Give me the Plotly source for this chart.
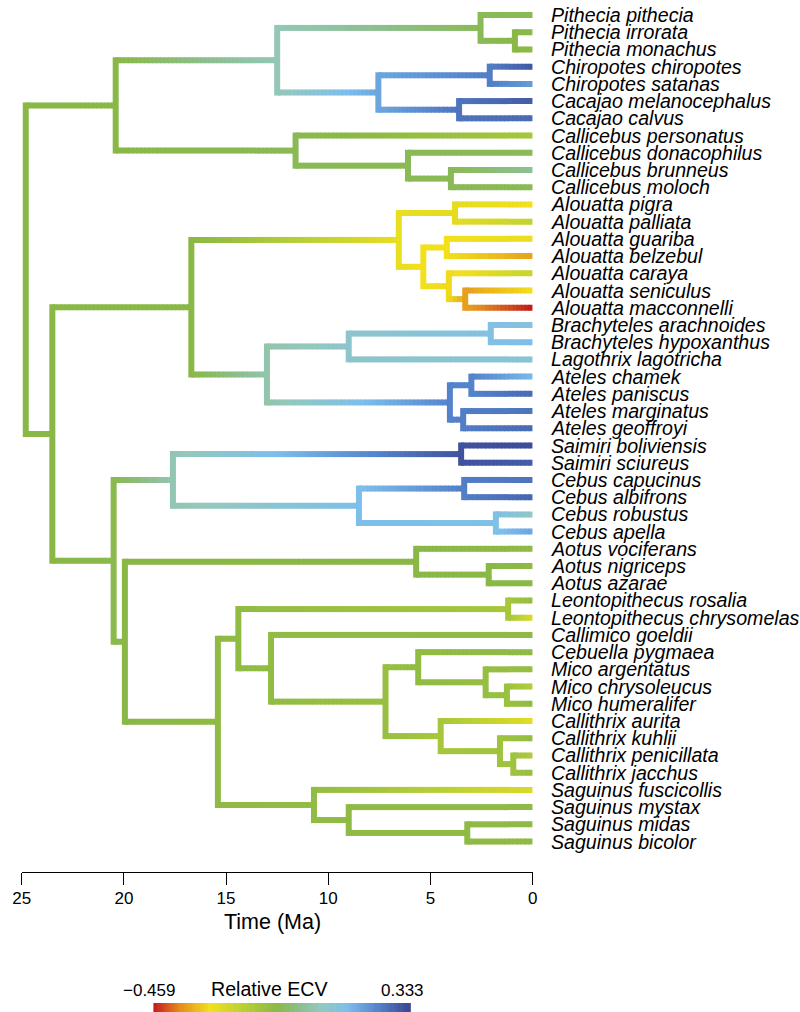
import math
import plotly.graph_objects as go

# ---------------- data ----------------
tip_labels = [
    "Pithecia pithecia", "Pithecia irrorata", "Pithecia monachus",
    "Chiropotes chiropotes", "Chiropotes satanas",
    "Cacajao melanocephalus", "Cacajao calvus",
    "Callicebus personatus", "Callicebus donacophilus", "Callicebus brunneus", "Callicebus moloch",
    "Alouatta pigra", "Alouatta palliata", "Alouatta guariba", "Alouatta belzebul",
    "Alouatta caraya", "Alouatta seniculus", "Alouatta macconnelli",
    "Brachyteles arachnoides", "Brachyteles hypoxanthus", "Lagothrix lagotricha",
    "Ateles chamek", "Ateles paniscus", "Ateles marginatus", "Ateles geoffroyi",
    "Saimiri boliviensis", "Saimiri sciureus",
    "Cebus capucinus", "Cebus albifrons", "Cebus robustus", "Cebus apella",
    "Aotus vociferans", "Aotus nigriceps", "Aotus azarae",
    "Leontopithecus rosalia", "Leontopithecus chrysomelas",
    "Callimico goeldii", "Cebuella pygmaea",
    "Mico argentatus", "Mico chrysoleucus", "Mico humeralifer",
    "Callithrix aurita", "Callithrix kuhlii", "Callithrix penicillata", "Callithrix jacchus",
    "Saguinus fuscicollis", "Saguinus mystax", "Saguinus midas", "Saguinus bicolor",
]
tip_ecv = [
    -0.063, -0.071, -0.087,
    0.301, 0.190,
    0.293, 0.270,
    -0.142, -0.063, 0.000, -0.063,
    -0.285, -0.198, -0.269, -0.356,
    -0.206, -0.285, -0.459,
    0.111, 0.135, 0.095,
    0.143, 0.270, 0.254, 0.270,
    0.317, 0.293,
    0.254, 0.278, 0.064, 0.175,
    -0.087, -0.087, -0.079,
    -0.095, -0.245,
    -0.087, -0.087,
    -0.103, -0.174, -0.087,
    -0.261, -0.095, -0.158, -0.103,
    -0.245, -0.087, -0.087, -0.087,
]

node_names = [
    "root", "Pitheciidae", "Pitheciinae", "Pithecia", "PithIM", "ChirCac",
    "Chiropotes", "Cacajao", "Callicebus", "CalliDBM", "CalliBM",
    "nA", "Atelidae", "Alouatta", "AlPP", "AlRest", "AlGB", "AlCSM", "AlSM",
    "Atelinae", "BrLa", "Brachyteles", "Ateles", "AtCP", "AtMG",
    "nB", "Cebidae", "Saimiri", "Cebus", "CebCA", "CebRA",
    "nC", "Aotus", "AoNA", "nD", "nE", "Leonto", "nF", "nG", "nH",
    "Mico", "MicoCH", "Callithrix", "CalKPJ", "CalPJ",
    "Saguinus", "SagMMB", "SagMB",
]
node_children = [
    ["Pitheciidae", "nA"], ["Pitheciinae", "Callicebus"], ["Pithecia", "ChirCac"],
    ["Pithecia pithecia", "PithIM"], ["Pithecia irrorata", "Pithecia monachus"],
    ["Chiropotes", "Cacajao"],
    ["Chiropotes chiropotes", "Chiropotes satanas"], ["Cacajao melanocephalus", "Cacajao calvus"],
    ["Callicebus personatus", "CalliDBM"], ["Callicebus donacophilus", "CalliBM"],
    ["Callicebus brunneus", "Callicebus moloch"],
    ["Atelidae", "nB"], ["Alouatta", "Atelinae"], ["AlPP", "AlRest"],
    ["Alouatta pigra", "Alouatta palliata"], ["AlGB", "AlCSM"],
    ["Alouatta guariba", "Alouatta belzebul"], ["Alouatta caraya", "AlSM"],
    ["Alouatta seniculus", "Alouatta macconnelli"],
    ["BrLa", "Ateles"], ["Brachyteles", "Lagothrix lagotricha"],
    ["Brachyteles arachnoides", "Brachyteles hypoxanthus"], ["AtCP", "AtMG"],
    ["Ateles chamek", "Ateles paniscus"], ["Ateles marginatus", "Ateles geoffroyi"],
    ["Cebidae", "nC"], ["Saimiri", "Cebus"], ["Saimiri boliviensis", "Saimiri sciureus"],
    ["CebCA", "CebRA"], ["Cebus capucinus", "Cebus albifrons"], ["Cebus robustus", "Cebus apella"],
    ["Aotus", "nD"], ["Aotus vociferans", "AoNA"], ["Aotus nigriceps", "Aotus azarae"],
    ["nE", "Saguinus"], ["Leonto", "nF"],
    ["Leontopithecus rosalia", "Leontopithecus chrysomelas"],
    ["Callimico goeldii", "nG"], ["nH", "Callithrix"], ["Cebuella pygmaea", "Mico"],
    ["Mico argentatus", "MicoCH"], ["Mico chrysoleucus", "Mico humeralifer"],
    ["Callithrix aurita", "CalKPJ"], ["Callithrix kuhlii", "CalPJ"],
    ["Callithrix penicillata", "Callithrix jacchus"],
    ["Saguinus fuscicollis", "SagMMB"], ["Saguinus mystax", "SagMB"],
    ["Saguinus midas", "Saguinus bicolor"],
]
node_ages = [
    24.8, 20.4, 12.5, 2.55, 0.87, 7.55,
    2.1, 3.6, 11.6, 6.1, 4.0,
    23.5, 16.7, 6.55, 3.8, 5.35, 4.2, 4.1, 3.3,
    13.0, 9.0, 2.05, 4.05, 3.0, 3.4,
    20.5, 17.6, 3.5, 8.5, 3.35, 1.8,
    19.95, 5.7, 2.15, 15.4, 14.4, 1.2, 12.8, 7.2, 5.6,
    2.3, 1.26, 4.5, 1.6, 0.95,
    10.7, 9.0, 3.2,
]
node_ecv = [
    -0.079, -0.079, 0.048, -0.063, -0.079, 0.175,
    0.238, 0.254, -0.063, -0.063, -0.063,
    -0.079, -0.079, -0.269, -0.261, -0.285, -0.285, -0.293, -0.356,
    0.032, 0.080, 0.119, 0.230, 0.230, 0.238,
    -0.071, 0.040, 0.309, 0.135, 0.238, 0.127,
    -0.079, -0.079, -0.079, -0.087, -0.095, -0.142, -0.095, -0.111, -0.095,
    -0.103, -0.118, -0.142, -0.126, -0.126,
    -0.095, -0.087, -0.087,
]

ecv_min, ecv_max = -0.459, 0.333
time_ticks = [25, 20, 15, 10, 5, 0]

palette_pos = [0.00, 0.10, 0.22, 0.35, 0.48, 0.57, 0.65, 0.75, 0.87, 1.00]
palette_col = ["#C4161C", "#E38A1E", "#F2E01C", "#B8D035", "#8AB846",
               "#8CBF8E", "#94C8BE", "#7DBFEB", "#5483CB", "#3A4391"]

# ---------------- geometry (body margin removed by post_script) ----------------
OFF = 0
W, H = 800 - OFF, 1012 - OFF

def px(xw):
    return (xw - OFF) / W

def py(yw):
    return 1 - (yw - OFF) / H

# ---------------- helpers ----------------
def hex2rgb(h):
    h = h.lstrip("#")
    return tuple(int(h[i:i + 2], 16) for i in (0, 2, 4))

pal_rgb = [hex2rgb(c) for c in palette_col]

def color_of(v, levels=300):
    p = (v - ecv_min) / (ecv_max - ecv_min)
    p = min(1.0, max(0.0, p))
    p = round(p * levels) / levels
    for k in range(len(palette_pos) - 1):
        if p <= palette_pos[k + 1]:
            f = (p - palette_pos[k]) / (palette_pos[k + 1] - palette_pos[k])
            a, b = pal_rgb[k], pal_rgb[k + 1]
            return "rgb(%d,%d,%d)" % tuple(round(a[j] + (b[j] - a[j]) * f) for j in range(3))
    return "rgb(%d,%d,%d)" % pal_rgb[-1]

age, val, ypos, children = {}, {}, {}, {}
for i, t in enumerate(tip_labels):
    age[t] = 0.0
    val[t] = tip_ecv[i]
    ypos[t] = float(i)
for n, ch, a, v in zip(node_names, node_children, node_ages, node_ecv):
    children[n] = ch
    age[n] = a
    val[n] = v

def gety(n):
    if n in ypos:
        return ypos[n]
    ys = [gety(c) for c in children[n]]
    ypos[n] = (ys[0] + ys[-1]) / 2.0
    return ypos[n]

gety("root")

groups = {}

def add_seg(col, x0, x1, y0, y1):
    g = groups.setdefault(col, ([], []))
    g[0].extend([x0, x1, None])
    g[1].extend([y0, y1, None])

TIP_SP = 17.22
LW = 6
ext = (LW / 2.0) / TIP_SP
step = 0.2
overlap = 0.04
for n in node_names:
    ch = children[n]
    add_seg(color_of(val[n]), age[n], age[n], ypos[ch[0]] - ext, ypos[ch[-1]] + ext)
    for c in ch:
        L = age[n] - age[c]
        npc = max(1, int(math.ceil(L / step)))
        d = L / npc
        for k in range(npc):
            t0 = age[n] - k * d
            t1 = max(age[c], t0 - d - overlap)
            v = val[n] + (val[c] - val[n]) * ((k + 0.5) / npc)
            add_seg(color_of(v), t0, t1, ypos[c], ypos[c])

fig = go.Figure()
for col, (xs, ys) in groups.items():
    fig.add_trace(go.Scatter(x=xs, y=ys, mode="lines",
                             line=dict(color=col, width=LW),
                             hoverinfo="skip", showlegend=False))

FONT = "Liberation Sans, Arial, sans-serif"
annotations = []
label_x = px(549.6)
for t in tip_labels:
    annotations.append(dict(x=label_x, y=ypos[t], xref="paper", yref="y",
                            text="<i>%s</i>" % t, showarrow=False,
                            xanchor="left", yanchor="middle",
                            font=dict(family=FONT, size=19.6, color="black")))
annotations.append(dict(x=px(268), y=py(922), xref="paper", yref="paper",
                        text="Time (Ma)", showarrow=False, xanchor="center", yanchor="middle",
                        font=dict(family=FONT, size=21.5, color="black")))
annotations.append(dict(x=px(143), y=py(990), xref="paper", yref="paper",
                        text="\u2212%.3f" % abs(ecv_min), showarrow=False, xanchor="center",
                        yanchor="middle", font=dict(family=FONT, size=17, color="black")))
annotations.append(dict(x=px(400), y=py(990), xref="paper", yref="paper",
                        text="%.3f" % ecv_max, showarrow=False, xanchor="center",
                        yanchor="middle", font=dict(family=FONT, size=17, color="black")))
annotations.append(dict(x=px(265), y=py(989), xref="paper", yref="paper",
                        text="Relative ECV", showarrow=False, xanchor="center",
                        yanchor="middle", font=dict(family=FONT, size=19.6, color="black")))

# colour bar built from the palette
shapes = []
nbar = 160
bx0, bx1 = 147.0, 409.0
for k in range(nbar):
    v = ecv_min + (ecv_max - ecv_min) * (k + 0.5) / nbar
    xa = bx0 + (bx1 - bx0) * k / nbar
    xb = bx0 + (bx1 - bx0) * (k + 1) / nbar + 0.6
    shapes.append(dict(type="rect", xref="paper", yref="paper",
                       x0=px(xa), x1=px(min(xb, bx1)), y0=py(1012), y1=py(1003),
                       fillcolor=color_of(v), line=dict(width=0), layer="above"))

y_top = (OFF - 15.0) / TIP_SP
y_bot = (872.0 - 15.0) / TIP_SP

fig.update_layout(
    width=W, height=H,
    margin=dict(l=0, r=0, t=0, b=0),
    paper_bgcolor="white", plot_bgcolor="white",
    showlegend=False,
    annotations=annotations,
    shapes=shapes,
    xaxis=dict(domain=[px(12.9), px(533.0)], range=[25, 0],
               tickvals=time_ticks, ticktext=[str(v) for v in time_ticks],
               showline=True, linecolor="black", linewidth=1.3,
               ticks="outside", ticklen=12, tickwidth=1.3, tickcolor="black",
               ticklabelstandoff=-2, ticklabeloverflow="allow",
               showgrid=False, zeroline=False,
               tickfont=dict(family=FONT, size=17, color="black")),
    yaxis=dict(domain=[py(872), 1.0], range=[y_bot, y_top],
               visible=False, showgrid=False, zeroline=False),
    font=dict(family=FONT, color="black"),
)

fig.write_html("out.html", config={"displayModeBar": False},
               post_script="document.body.style.margin='0px';")
